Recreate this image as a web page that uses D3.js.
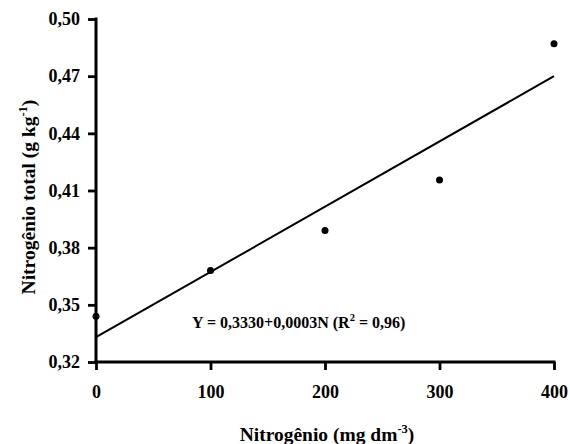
<!DOCTYPE html>
<html>
<head>
<meta charset="utf-8">
<script src="https://cdn.jsdelivr.net/npm/d3@7"></script>
<style>
  body { margin: 0; background: #fff; }
</style>
</head>
<body>
<svg id="chart" width="570" height="444"></svg>
<script>
// Data
const doses = [0, 100, 200, 300, 400];
const nTotal = [0.344, 0.368, 0.389, 0.4155, 0.487];
const fitX = [0, 400];
const fitY = [0.333, 0.470];
const xTicks = [0, 100, 200, 300, 400];
const yTicks = [0.32, 0.35, 0.38, 0.41, 0.44, 0.47, 0.50];

const FONT = "'Liberation Serif', 'Times New Roman', Times, serif";
const svg = d3.select("#chart");
const x = d3.scaleLinear().domain([0, 400]).range([96, 554]);
const y = d3.scaleLinear().domain([0.32, 0.50]).range([362, 19]);

const fmt = d => d3.format(".2f")(d).replace(".", ",");
const styleText = sel => sel.attr("font-family", FONT).style("font-family", FONT)
  .style("font-weight", "bold").attr("fill", "#000");

// Y axis
const yAxis = svg.append("g").attr("transform", `translate(${x(0)},0)`)
  .call(d3.axisLeft(y).tickValues(yTicks).tickFormat(fmt).tickSize(8).tickPadding(8).tickSizeOuter(0));
yAxis.attr("font-family", FONT).attr("font-size", 18);
yAxis.select(".domain").attr("stroke-width", 3).attr("d", `M0,${y(0.50)-1.5}V${y(0.32)+1.5}`);
yAxis.selectAll(".tick line").attr("stroke-width", 2.8);
yAxis.selectAll(".tick text").call(styleText).style("font-size", "18px");

// X axis
const xAxis = svg.append("g").attr("transform", `translate(0,${y(0.32)})`)
  .call(d3.axisBottom(x).tickValues(xTicks).tickFormat(d3.format("d")).tickSize(8).tickPadding(15).tickSizeOuter(0));
xAxis.attr("font-family", FONT).attr("font-size", 18);
xAxis.select(".domain").attr("stroke-width", 3).attr("d", `M${x(0)-1.5},0H${x(400)+1.5}`);
xAxis.selectAll(".tick line").attr("stroke-width", 2.8);
xAxis.selectAll(".tick text").call(styleText).style("font-size", "18px");

// Fit line
svg.append("path")
  .datum(fitX.map((d, i) => [d, fitY[i]]))
  .attr("fill", "none").attr("stroke", "#000").attr("stroke-width", 2)
  .attr("d", d3.line().x(d => x(d[0])).y(d => y(d[1])));

// Points
svg.selectAll("circle.pt").data(doses).join("circle")
  .attr("class", "pt")
  .attr("cx", d => x(d)).attr("cy", (d, i) => y(nTotal[i])).attr("r", 3.5).attr("fill", "#000");

// X title
const xt = svg.append("text").attr("x", 327).attr("y", 441).attr("text-anchor", "middle").call(styleText).style("font-size", "19.5px");
xt.append("tspan").text("Nitrogênio (mg dm");
xt.append("tspan").attr("dy", -8).style("font-size", "12.5px").text("-3");
xt.append("tspan").attr("dy", 8).text(")");

// Y title
const yt = svg.append("text").attr("transform", "translate(35,197) rotate(-90)").attr("text-anchor", "middle").call(styleText).style("font-size", "19.5px");
yt.append("tspan").text("Nitrogênio total (g kg");
yt.append("tspan").attr("dy", -8).style("font-size", "12.5px").text("-1");
yt.append("tspan").attr("dy", 8).text(")");

// Equation
const eq = svg.append("text").attr("x", 192).attr("y", 328).call(styleText).style("font-size", "16px");
eq.append("tspan").text("Y = 0,3330+0,0003N (R");
eq.append("tspan").attr("dy", -7).style("font-size", "10.5px").text("2");
eq.append("tspan").attr("dy", 7).text(" = 0,96)");
</script>
</body>
</html>
